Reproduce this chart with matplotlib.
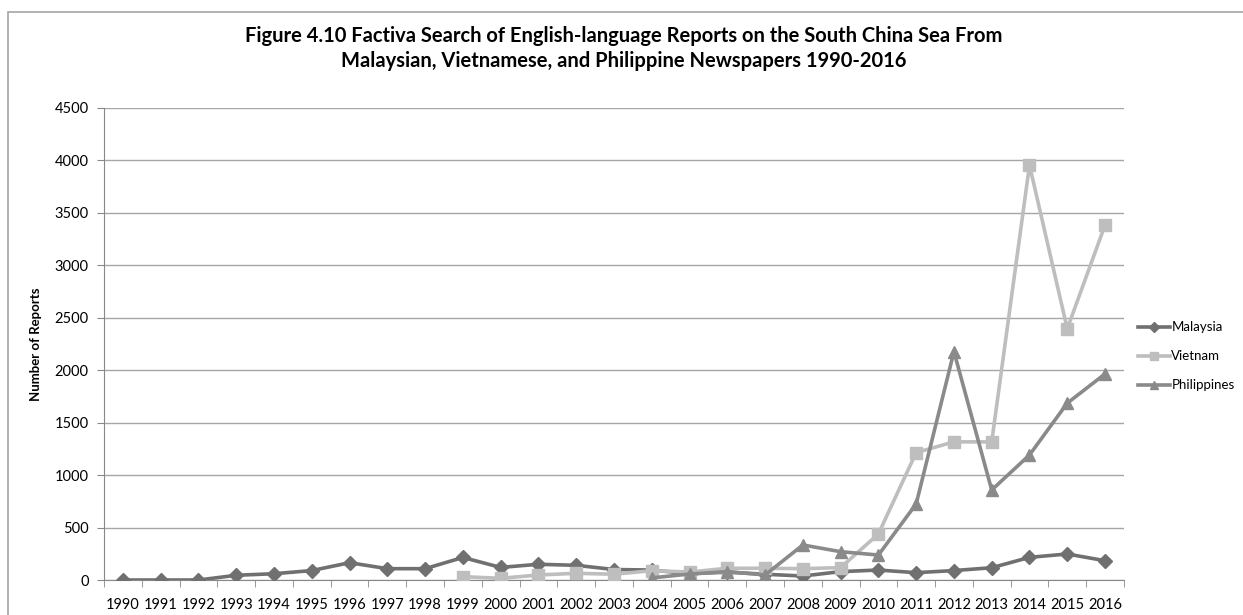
import numpy as np
import matplotlib.pyplot as plt
import matplotlib.patches as patches

years = [str(y) for y in range(1990, 2017)]

malaysia = [0, 0, 0, 45, 60, 90, 165, 108, 108, 215, 120, 150, 140, 100, 95,
            60, 75, 55, 38, 80, 95, 70, 90, 117, 216, 248, 184]
vietnam = [np.nan] * 9 + [32, 16, 48, 64, 55, 89, 76, 112, 112, 108, 118,
                          439, 1215, 1317, 1317, 3955, 2395, 3384]
philippines = [np.nan] * 14 + [20, 57, 80, 48, 334, 270, 238, 725, 2178, 858,
                               1192, 1686, 1965]

title = ("Figure 4.10 Factiva Search of English-language Reports on the South China Sea From\n"
         "Malaysian, Vietnamese, and Philippine Newspapers 1990-2016")

plt.rcParams['font.family'] = ['Lato', 'DejaVu Sans']

fig = plt.figure(figsize=(12.43, 6.15), dpi=100)
ax = fig.add_axes([0.0837, 0.0569, 0.8205, 0.7675])

# chart frame
fig.add_artist(patches.Rectangle((0.0064, -0.05), 1.05, 1.031, transform=fig.transFigure,
                                 fill=False, edgecolor='#a6a6a6', linewidth=1.2))

x = np.arange(len(years))
ax.plot(x, malaysia, color='#707070', lw=2.6, marker='D', ms=7, label='Malaysia', zorder=3)
ax.plot(x, vietnam, color='#bebebe', lw=2.6, marker='s', ms=8, label='Vietnam', zorder=3)
ax.plot(x, philippines, color='#8a8a8a', lw=2.6, marker='^', ms=8, label='Philippines', zorder=4)

ax.set_xlim(-0.5, len(years) - 0.5)
ax.set_ylim(0, 4500)
ax.set_yticks(range(0, 4501, 500))
ax.set_xticks(x)
ax.set_xticklabels(years, fontsize=10.5)
ax.set_xticks(np.arange(-0.5, len(years), 1), minor=True)
ax.tick_params(axis='x', which='major', length=0, pad=13)
ax.tick_params(axis='x', which='minor', length=5, color='#888888', direction='out')
ax.tick_params(axis='y', length=5, color='#888888', labelsize=10.5, pad=6)
ax.grid(axis='y', color='#a6a6a6', lw=1)
ax.set_axisbelow(True)
for s in ['top', 'right']:
    ax.spines[s].set_visible(False)
for s in ['left', 'bottom']:
    ax.spines[s].set_color('#888888')

ax.set_ylabel('Number of Reports', fontsize=9.5, fontweight='bold', labelpad=9)
fig.suptitle(title, fontsize=14.5, fontweight='bold', x=0.502, y=0.958, linespacing=1.3)

ax.legend(loc='center left', bbox_to_anchor=(1.0, 0.474), frameon=False, fontsize=9.5,
          handlelength=2.4, handletextpad=0.1, labelspacing=1.3, borderaxespad=0.7,
          markerscale=0.8)

fig.savefig('out.png', dpi=100)
